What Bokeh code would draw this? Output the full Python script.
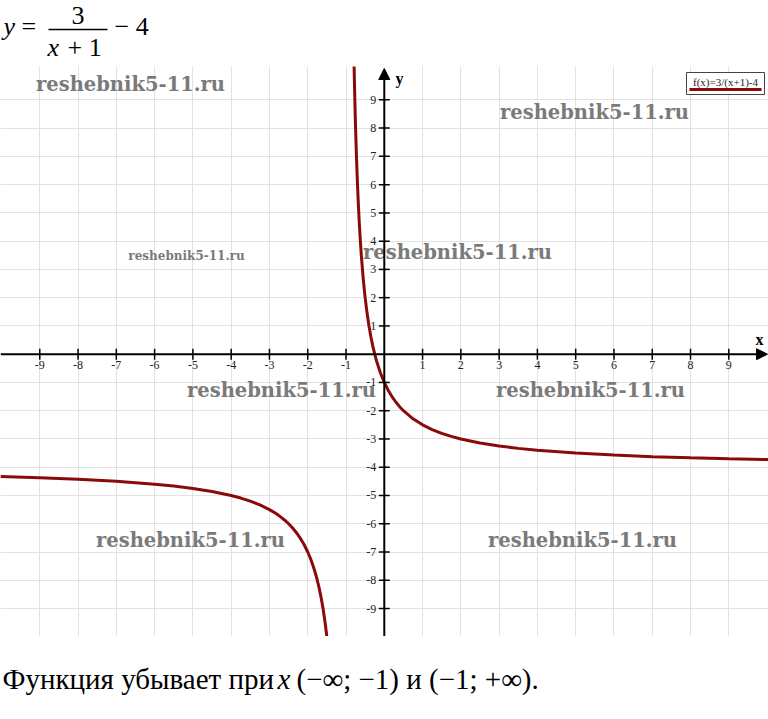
from bokeh.plotting import figure
from bokeh.layouts import column
from bokeh.models import Range1d, Grid, FixedTicker, Arrow, NormalHead
from bokeh.core.properties import value
from bokeh.embed import file_html
from bokeh.resources import INLINE

# ---------------- data ----------------
TICKS_X = [-9, -8, -7, -6, -5, -4, -3, -2, -1, 1, 2, 3, 4, 5, 6, 7, 8, 9]
TICKS_Y = [-9, -8, -7, -6, -5, -4, -3, -2, -1, 1, 2, 3, 4, 5, 6, 7, 8, 9]
LABELS_X = ["-9", "-8", "-7", "-6", "-5", "-4", "-3", "-2", "-1", "1", "2", "3", "4", "5", "6", "7", "8", "9"]
LABELS_Y = ["-9", "-8", "-7", "-6", "-5", "-4", "-3", "-2", "-1", "1", "2", "3", "4", "5", "6", "7", "8", "9"]

# f(x) = 3/(x+1) - 4 (left branch, x < -1)
LEFT_X = [-10.03, -9, -8, -7, -6, -5.5, -5, -4.5, -4, -3.75, -3.5, -3.25, -3, -2.9, -2.8, -2.7,
          -2.6, -2.5, -2.4, -2.3, -2.2, -2.1, -2.0, -1.95, -1.9, -1.85, -1.8, -1.75, -1.7, -1.65,
          -1.6, -1.55, -1.5]
LEFT_Y = [-4.332, -4.375, -4.429, -4.5, -4.6, -4.667, -4.75, -4.857, -5.0, -5.091, -5.2, -5.333,
          -5.5, -5.579, -5.667, -5.765, -5.875, -6.0, -6.143, -6.308, -6.5, -6.727, -7.0, -7.158,
          -7.333, -7.529, -7.75, -8.0, -8.286, -8.615, -9.0, -9.455, -10.0]
# right branch, x > -1
RIGHT_X = [-0.79, -0.78, -0.77, -0.76, -0.75, -0.73, -0.7, -0.675, -0.65, -0.625, -0.6, -0.55,
           -0.5, -0.45, -0.4, -0.35, -0.3, -0.25, -0.2, -0.1, 0, 0.1, 0.2, 0.3, 0.4, 0.5, 0.75,
           1, 1.25, 1.5, 1.75, 2, 2.5, 3, 3.5, 4, 5, 6, 7, 8, 9, 10.04]
RIGHT_Y = [10.286, 9.636, 9.043, 8.5, 8.0, 7.111, 6.0, 5.231, 4.571, 4.0, 3.5, 2.667, 2.0,
           1.455, 1.0, 0.615, 0.286, 0.0, -0.25, -0.667, -1.0, -1.273, -1.5, -1.692, -1.857,
           -2.0, -2.286, -2.5, -2.667, -2.8, -2.909, -3.0, -3.143, -3.25, -3.333, -3.4, -3.5,
           -3.571, -3.625, -3.667, -3.7, -3.728]

LEGEND_LABEL = "f(x)=3/(x+1)-4"
WATERMARK = "reshebnik5-11.ru"

# ---------------- layout ----------------
W = 768
X_MIN, X_MAX = -10.026, 10.037
Y_MIN, Y_MAX = -9.99, 10.18
TOP_H = 66
MAIN_H = 570
BOT_H = 83
SERIF = value("Liberation Serif")
CURVE_COLOR = "#8a0a0a"


def px_x(X):
    return X_MIN + X / W * (X_MAX - X_MIN)


def px_y(Y):
    return Y_MAX - (Y - TOP_H) / MAIN_H * (Y_MAX - Y_MIN)


def bare(fig):
    fig.min_border = 0
    fig.outline_line_color = None
    fig.background_fill_color = "white"
    fig.border_fill_color = "white"
    fig.grid.visible = False
    return fig


# ---- top: formula ----
top = bare(figure(width=W, height=TOP_H, x_range=Range1d(0, W), y_range=Range1d(TOP_H, 0),
                  x_axis_location=None, y_axis_location=None, toolbar_location=None,
                  output_backend="svg"))
fs = "26px"
top.text(x=[3], y=[26], text=["y"], text_font=SERIF, text_font_style="italic",
         text_font_size=fs, text_baseline="alphabetic", text_color="black")
top.text(x=[21, 71, 114], y=[26, 15, 26], text=["=", "3", "\u2212 4"], text_font=SERIF,
         text_font_size=fs, text_baseline="alphabetic", text_color="black")
top.text(x=[47], y=[47], text=["x"], text_font=SERIF, text_font_style="italic",
         text_font_size=fs, text_baseline="alphabetic", text_color="black")
top.text(x=[67], y=[47], text=["+ 1"], text_font=SERIF,
         text_font_size=fs, text_baseline="alphabetic", text_color="black")
top.segment(x0=[48], y0=[29], x1=[107], y1=[29], line_color="black", line_width=1.5)

# ---- main plot ----
p = bare(figure(width=W, height=MAIN_H, x_range=Range1d(X_MIN, X_MAX),
                y_range=Range1d(Y_MIN, Y_MAX), x_axis_location=None, y_axis_location=None,
                toolbar_location=None, output_backend="svg"))
p.add_layout(Grid(dimension=0, ticker=FixedTicker(ticks=TICKS_X),
                  grid_line_color="#e2e2e2", grid_line_width=1))
p.add_layout(Grid(dimension=1, ticker=FixedTicker(ticks=TICKS_Y),
                  grid_line_color="#e2e2e2", grid_line_width=1))

# axes with arrows
p.add_layout(Arrow(end=NormalHead(size=11, fill_color="black", line_color="black"),
                   x_start=X_MIN, y_start=0, x_end=px_x(767), y_end=0,
                   line_color="black", line_width=2))
p.add_layout(Arrow(end=NormalHead(size=11, fill_color="black", line_color="black"),
                   x_start=0, y_start=Y_MIN, x_end=0, y_end=px_y(68),
                   line_color="black", line_width=2))

# tick crosses
p.scatter(x=TICKS_X, y=[0] * len(TICKS_X), marker="dash", angle=1.5708, size=11,
          line_color="black", line_width=1.5)
p.scatter(x=[0] * len(TICKS_Y), y=TICKS_Y, marker="dash", size=11,
          line_color="black", line_width=1.5)

# tick labels
p.text(x=TICKS_X, y=[0] * len(TICKS_X), text=LABELS_X, text_font=SERIF, text_font_size="12px",
       text_align="center", text_baseline="top", y_offset=7, text_color="#222222")
p.text(x=[0] * len(TICKS_Y), y=TICKS_Y, text=LABELS_Y, text_font=SERIF, text_font_size="12px",
       text_align="right", text_baseline="middle", x_offset=-8, text_color="#222222")

# axis names
p.text(x=[px_x(759)], y=[px_y(339)], text=["x"], text_font=SERIF, text_font_style="bold",
       text_font_size="16px", text_align="center", text_baseline="middle", text_color="black")
p.text(x=[px_x(399)], y=[px_y(78)], text=["y"], text_font=SERIF, text_font_style="bold",
       text_font_size="16px", text_align="center", text_baseline="middle", text_color="black")

# curve
p.line(x=LEFT_X, y=LEFT_Y, line_color=CURVE_COLOR, line_width=3)
p.line(x=RIGHT_X, y=RIGHT_Y, line_color=CURVE_COLOR, line_width=3)

# legend box
p.quad(left=[px_x(686)], right=[px_x(764)], top=[px_y(72)], bottom=[px_y(94)],
       fill_color="white", line_color="#444444", line_width=1)
p.text(x=[px_x(725)], y=[px_y(81)], text=[LEGEND_LABEL], text_font=SERIF, text_font_size="11px",
       text_align="center", text_baseline="middle", text_color="#222222")
p.segment(x0=[px_x(689)], y0=[px_y(89)], x1=[px_x(761)], y1=[px_y(89)],
          line_color=CURVE_COLOR, line_width=3)

# watermarks
wm_big = [(130, 84), (594, 112), (457, 252), (281, 390), (590, 390), (190, 540), (582, 540)]
p.text(x=[px_x(a) for a, b in wm_big], y=[px_y(b) for a, b in wm_big],
       text=[WATERMARK] * len(wm_big), text_font=value("DejaVu Serif"), text_font_style="bold",
       text_font_size="19.5px", text_align="center", text_baseline="middle",
       text_color="#7a7a7a")
p.text(x=[px_x(186)], y=[px_y(255)], text=[WATERMARK], text_font=value("DejaVu Serif"),
       text_font_style="bold", text_font_size="12px", text_align="center",
       text_baseline="middle", text_color="#7a7a7a")

# ---- bottom: conclusion ----
B0 = TOP_H + MAIN_H
bot = bare(figure(width=W, height=BOT_H, x_range=Range1d(0, W), y_range=Range1d(B0 + BOT_H, B0),
                  x_axis_location=None, y_axis_location=None, toolbar_location=None,
                  output_backend="svg"))
bfs = "29px"
bot.text(x=[2], y=[678], text=["Функция убывает при"], text_font=SERIF, text_font_size=bfs,
         text_baseline="alphabetic", text_color="black")
bot.text(x=[277], y=[678], text=["x"], text_font=SERIF, text_font_style="italic",
         text_font_size=bfs, text_baseline="alphabetic", text_color="black")
bot.text(x=[296], y=[678], text=["(\u2212\u221e;  \u22121) и (\u22121;  +\u221e)."], text_font=SERIF,
         text_font_size=bfs, text_baseline="alphabetic", text_color="black")

layout = column(top, p, bot, spacing=0)
open("out.html", "w").write(file_html(layout, INLINE))
